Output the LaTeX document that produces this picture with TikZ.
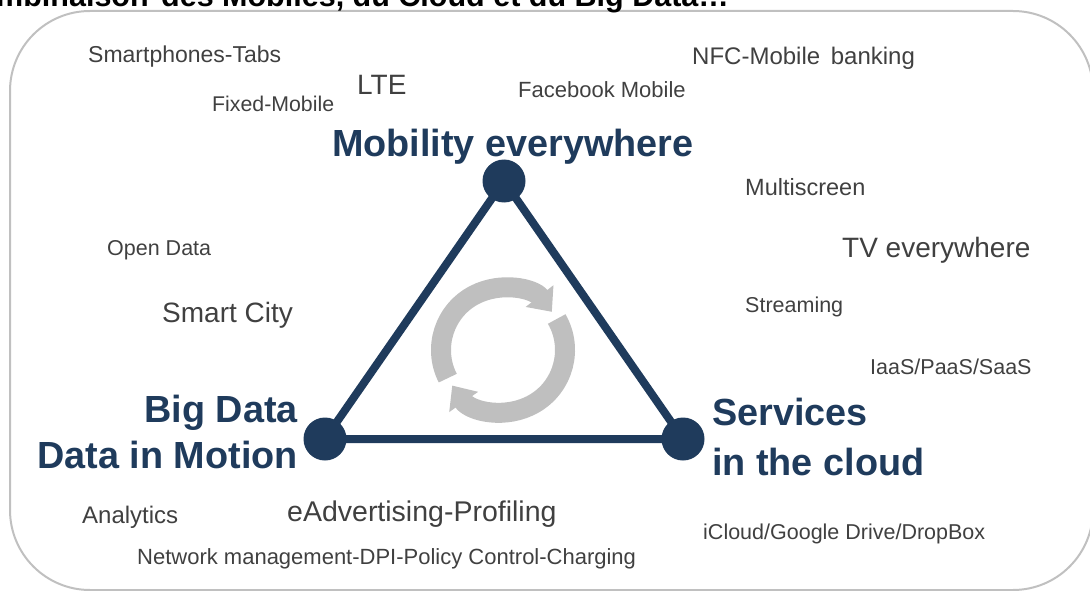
\documentclass[tikz,border=0pt]{standalone}
\usepackage{fontspec}
\setmainfont{Liberation Sans}
\usetikzlibrary{arrows.meta}
\definecolor{navy}{RGB}{31,59,92}
\definecolor{lbl}{RGB}{64,64,64}
\definecolor{ringgray}{RGB}{191,191,191}
\definecolor{framegray}{RGB}{192,192,192}
\tikzset{
  lab/.style={anchor=base west, inner sep=0pt, text=lbl, font=\fontsize{#1}{#1}\selectfont},
  big/.style={inner sep=0pt, text=navy, font=\fontsize{37.8}{40}\selectfont\bfseries},
  vertex/.style={circle, fill=navy, minimum size=43pt, inner sep=0pt},
  edge/.style={draw=navy, line width=8pt},
  ring/.style={draw=ringgray, line width=20pt},
}
\begin{document}
\begin{tikzpicture}[x=1pt,y=-1pt]
\useasboundingbox (0,0) rectangle (1090,591);
% frame
\draw[framegray, line width=2pt, rounded corners=80pt] (10,11) rectangle (1093,590);
% title (cropped at the top edge, as in the reference)
\node[anchor=base west, inner sep=0pt, font=\fontsize{30.5}{31}\selectfont\bfseries] (title) at (-4,7) {mbinaison\hspace{4pt} des Mobiles, du Cloud et du Big Data…};
% circular arrow
\begin{scope}[shift={(503,350)}, y=1pt]
  \draw[ring, -{Triangle[width=34pt,length=20pt]}] (207:62) arc[start angle=207, end angle=38, radius=62];
  \draw[ring, -{Triangle[width=34pt,length=20pt]}] (30:62) arc[start angle=30, end angle=-145, radius=62];
\end{scope}
% triangle
\node[vertex] (top) at (504,181) {};
\node[vertex] (left) at (325,439) {};
\node[vertex] (right) at (683,439) {};
\draw[edge, line join=round] (top.center) -- (left.center) -- (right.center) -- cycle;
% main labels
\node[big, anchor=base west] (mob) at (332,157) {Mobility everywhere};
\node[big, anchor=base east] (bd1) at (298,422) {Big Data};
\node[big, anchor=base east] (bd2) at (298,468) {Data in Motion};
\node[big, anchor=base west] (sv1) at (712,425) {Services};
\node[big, anchor=base west] (sv2) at (712,475) {in the cloud};
% small labels
\node[lab=23] (smart) at (88,63) {Smartphones-Tabs};
\node[lab=28] (lte) at (357,95) {LTE};
\node[lab=21.3] (fixed) at (212,112) {Fixed-Mobile};
\node[lab=22] (fb) at (518,98) {Facebook Mobile};
\node[lab=24] (nfc) at (692,65) {NFC-Mobile\hspace{4pt} banking};
\node[lab=23.5] (multi) at (745,195) {Multiscreen};
\node[lab=28] (tv) at (842,257) {TV everywhere};
\node[lab=21.5] (open) at (107,255) {Open Data};
\node[lab=28] (city) at (162,322) {Smart City};
\node[lab=21.5] (stream) at (745,312) {Streaming};
\node[lab=21.5] (iaas) at (870,374) {IaaS/PaaS/SaaS};
\node[lab=24] (ana) at (82,523) {Analytics};
\node[lab=28.5] (eadv) at (287,521) {eAdvertising-Profiling};
\node[lab=22] (net) at (137,564) {Network management-DPI-Policy Control-Charging};
\node[lab=21.5] (icloud) at (703,539) {iCloud/Google Drive/DropBox};
\end{tikzpicture}
\end{document}
